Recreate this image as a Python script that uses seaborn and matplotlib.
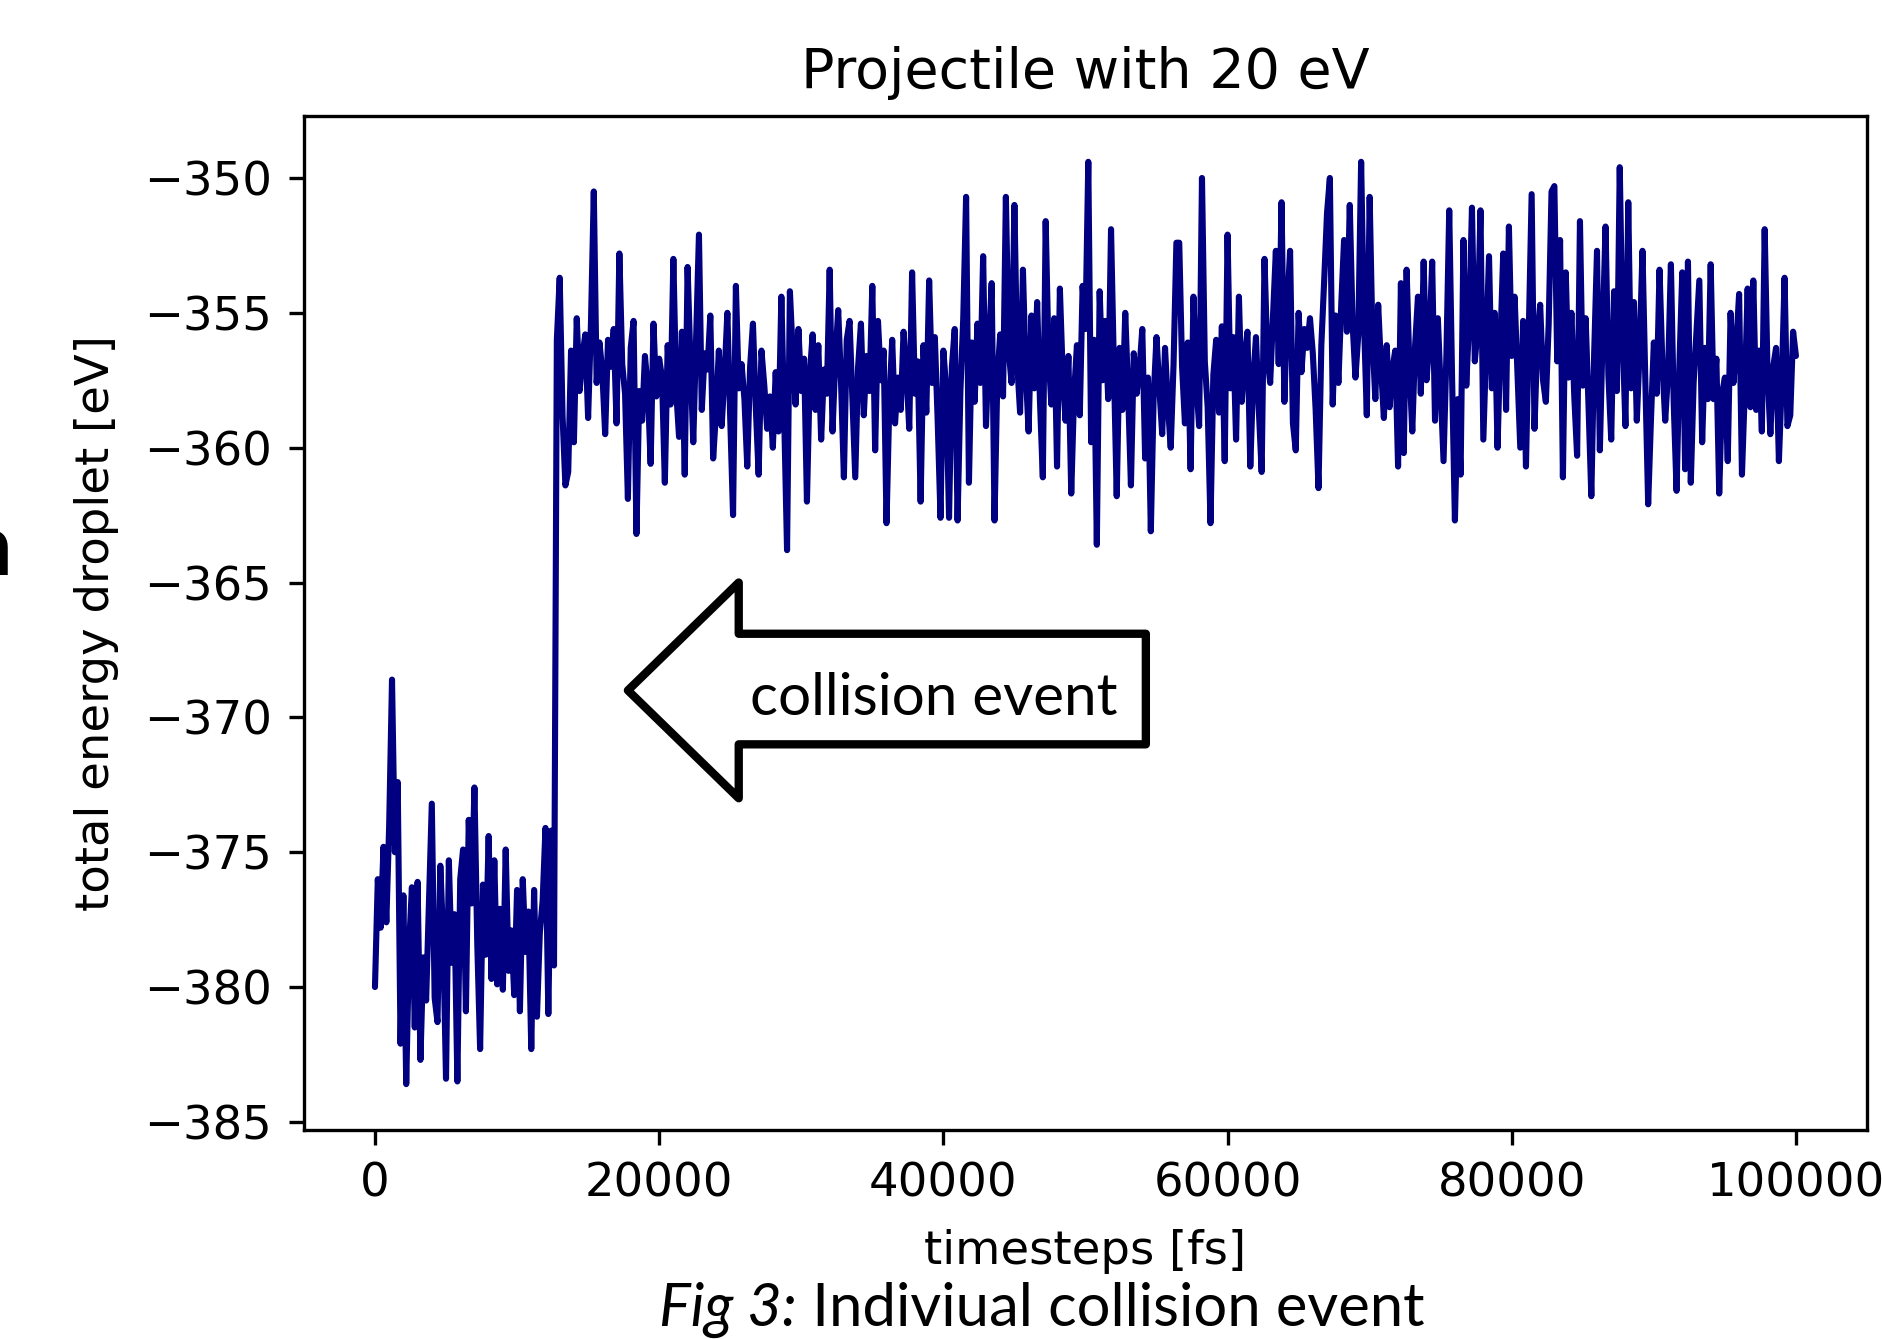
import numpy as np
import pandas as pd
import matplotlib
matplotlib.use("Agg")
import matplotlib.pyplot as plt
import seaborn as sns
from matplotlib.patches import Polygon

# ------------------------------------------------------------
# Data : total energy of the droplet, one value every 200 fs
# ------------------------------------------------------------
dt = 200  # fs between two stored frames

# before the hit (t = 0 ... 12600 fs)
pre_collision = [
    -380.0, -376.0, -377.8, -374.8, -377.6, -374.0, -368.6, -375.0, -372.4, -382.1,
    -376.6, -383.6, -378.5, -376.3, -381.5, -376.1, -382.7, -378.9, -380.5, -376.8,
    -373.2, -380.4, -381.3, -375.5, -378.2, -383.4, -375.3, -379.1, -377.3, -383.5,
    -376.0, -374.9, -380.9, -373.8, -376.9, -372.6, -378.4, -382.3, -376.2, -378.8,
    -374.4, -379.7, -375.3, -379.9, -377.1, -380.1, -374.9, -379.4, -377.9, -380.3,
    -376.4, -380.9, -376.0, -378.7, -377.2, -382.3, -376.4, -381.1, -378.0, -376.8,
    -374.1, -381.0, -374.2, -379.2,
]

# after the hit (t = 12800 ... 100000 fs)
post_collision = [
    -356.0, -353.7, -358.8, -361.4, -360.9, -356.4, -359.8, -355.2, -357.9, -356.6,
    -355.8, -358.9, -355.4, -350.5, -357.6, -356.1, -357.2, -359.5, -356.0, -357.0,
    -355.6, -359.1, -352.8, -356.9, -358.0, -361.9, -356.3, -355.3, -363.2, -357.9,
    -359.0, -356.6, -357.8, -360.6, -355.4, -358.1, -356.7, -357.4, -361.3, -356.2,
    -358.4, -353.0, -357.9, -359.6, -355.7, -361.0, -353.3, -356.8, -359.8, -355.9,
    -352.1, -358.6, -356.5, -357.1, -355.1, -360.4, -358.7, -356.4, -359.2, -357.3,
    -355.0, -358.9, -362.5, -354.0, -357.8, -356.9, -358.2, -360.7, -357.0, -355.4,
    -358.5, -361.0, -356.4, -357.7, -359.3, -358.1, -360.0, -357.2, -359.4, -354.4,
    -358.9, -363.8, -354.2, -356.5, -358.4, -355.6, -357.9, -356.7, -362.0, -357.3,
    -355.8, -358.6, -356.2, -359.7, -357.1, -358.0, -353.4, -359.4, -356.7, -354.9,
    -357.6, -361.1, -356.0, -355.3, -358.2, -361.1, -357.0, -355.4, -358.8, -356.6,
    -357.9, -354.0, -360.1, -355.3, -357.5, -356.4, -362.8, -358.3, -356.0, -359.1,
    -357.4, -358.6, -355.7, -357.2, -359.3, -353.5, -358.0, -356.8, -362.0, -356.2,
    -358.7, -353.8, -357.6, -355.9, -359.0, -362.6, -356.4, -357.8, -362.6, -357.0,
    -355.6, -362.7, -357.9, -355.2, -350.7, -361.3, -356.1, -358.3, -355.4, -357.6,
    -352.9, -359.2, -356.3, -353.9, -362.7, -357.4, -355.8, -358.1, -350.7, -356.4,
    -357.6, -351.0, -356.9, -358.7, -353.4, -357.2, -359.4, -355.1, -357.8, -354.6,
    -358.3, -361.1, -351.6, -356.5, -358.4, -355.2, -360.7, -354.1, -357.3, -359.0,
    -356.6, -361.7, -358.0, -356.2, -358.8, -354.0, -355.6, -349.4, -359.8, -356.0,
    -363.6, -354.2, -357.5, -355.3, -358.2, -351.9, -357.0, -361.8, -356.3, -358.6,
    -355.0, -357.9, -361.4, -356.5, -358.0, -357.1, -355.6, -360.4, -357.4, -363.1,
    -358.1, -355.9, -357.8, -359.5, -356.3, -358.4, -360.0, -356.9, -352.4, -352.4,
    -357.0, -359.1, -356.1, -360.8, -354.4, -357.6, -359.2, -350.0, -356.8, -358.5,
    -362.8, -357.3, -356.0, -358.7, -355.5, -360.5, -352.1, -357.8, -355.9, -359.7,
    -354.4, -358.3, -356.7, -355.7, -360.7, -357.5, -355.9, -358.6, -360.9, -353.0,
    -356.6, -357.6, -355.1, -352.7, -356.9, -350.9, -358.3, -354.8, -352.7, -359.1,
    -360.1, -355.0, -357.2, -355.6, -356.3, -355.2, -356.5, -358.6, -361.5, -356.2,
    -353.8, -351.3, -350.0, -358.4, -355.1, -357.6, -354.7, -352.3, -355.7, -351.0,
    -355.4, -357.4, -355.8, -349.4, -355.3, -358.8, -350.7, -356.0, -358.2, -354.7,
    -357.0, -358.9, -356.2, -358.5, -357.1, -356.4, -360.7, -353.9, -360.2, -353.4,
    -357.0, -359.4, -356.2, -354.4, -358.0, -353.1, -357.5, -356.1, -353.1, -359.0,
    -355.2, -357.8, -360.5, -356.6, -351.2, -357.4, -362.7, -358.2, -361.0, -352.3,
    -357.7, -355.3, -351.1, -356.8, -355.6, -351.2, -359.7, -356.3, -352.9, -357.8,
    -355.0, -360.0, -356.1, -352.8, -358.6, -351.8, -356.6, -354.4, -357.2, -360.0,
    -355.3, -360.7, -355.6, -350.6, -359.3, -356.0, -354.7, -357.5, -358.3, -355.4,
    -350.5, -350.3, -356.8, -352.3, -361.1, -353.5, -357.4, -355.0, -358.1, -360.3,
    -351.6, -357.7, -355.2, -358.4, -361.8, -356.5, -352.7, -360.1, -355.7, -351.8,
    -357.3, -359.7, -354.2, -357.9, -349.6, -355.8, -359.2, -350.9, -357.8, -354.6,
    -359.0, -356.4, -352.7, -357.5, -362.1, -358.9, -356.1, -358.0, -353.4, -356.9,
    -359.0, -357.2, -353.2, -358.4, -361.6, -356.9, -353.5, -360.8, -353.1, -361.3,
    -357.6, -355.7, -353.8, -359.8, -356.3, -358.2, -353.2, -358.2, -356.7, -361.7,
    -358.0, -357.4, -360.5, -355.0, -357.6, -356.2, -354.3, -361.0, -357.9, -354.1,
    -358.5, -353.8, -358.6, -356.4, -359.4, -351.9, -357.2, -359.5, -357.0, -356.3,
    -360.5, -357.6, -353.7, -359.2, -358.8, -355.7, -356.6,
]

title_txt = "Projectile with 20 eV"
xlabel_txt = "timesteps [fs]"
ylabel_txt = "total energy droplet [eV]"
arrow_txt = "collision event"
caption_it = "Fig 3:"
caption_rest = " Indiviual collision event"

energy = np.array(pre_collision + post_collision)
assert len(energy) == 501, len(energy)
time = np.arange(len(energy)) * dt
df = pd.DataFrame({"time": time, "energy": energy})

# ------------------------------------------------------------
# Style
# ------------------------------------------------------------
sns.set_style("ticks", {"axes.edgecolor": "black", "xtick.color": "black",
                        "ytick.color": "black", "text.color": "black",
                        "axes.labelcolor": "black"})
plt.rcParams["font.family"] = ["DejaVu Sans"]

fig = plt.figure(figsize=(18.83, 13.39), dpi=100)
ax = fig.add_axes([0.1614, 0.1561, 0.8301, 0.7573])

sns.lineplot(data=df, x="time", y="energy", color="navy", linewidth=4.4,
             estimator=None, ax=ax)

ax.set_xlim(-5000, 105000)
ax.set_ylim(-385.3, -347.7)
ax.set_xticks([0, 20000, 40000, 60000, 80000, 100000])
ax.set_yticks([-350, -355, -360, -365, -370, -375, -380, -385])

for side in ax.spines.values():
    side.set_linewidth(2.4)
ax.tick_params(axis="both", labelsize=33.5, length=11, width=2.4, pad=12)

ax.set_title(title_txt, fontsize=40, pad=20)
ax.set_xlabel(xlabel_txt, fontsize=33.5, labelpad=16)
ax.set_ylabel(ylabel_txt, fontsize=33.5, labelpad=18)

# ------------------------------------------------------------
# Block arrow "collision event" (drawn in data coordinates)
# ------------------------------------------------------------
tip_x, tip_y = 17800, -369.0
head_x, end_x = 25600, 54250
head_top, head_bot = -365.0, -373.0
shaft_top, shaft_bot = -366.9, -371.0
arrow = Polygon([(tip_x, tip_y), (head_x, head_top), (head_x, shaft_top),
                 (end_x, shaft_top), (end_x, shaft_bot), (head_x, shaft_bot),
                 (head_x, head_bot)], closed=True, facecolor="white",
                edgecolor="black", linewidth=6, joinstyle="round", zorder=3)
ax.add_patch(arrow)
ax.text(39300, -369.9, arrow_txt, ha="center", va="baseline", fontsize=42,
        family=["Lato", "DejaVu Sans"], zorder=4)

# ------------------------------------------------------------
# Slide leftovers : caption and cut glyph on the left
# ------------------------------------------------------------
fig.text(12 / 1883, 1 - 575 / 1339, "n", ha="right", va="baseline",
         fontsize=62, fontweight="bold", family=["Lato", "DejaVu Sans"])

cap_y = 1 - 1326 / 1339
t1 = fig.text(0.3, cap_y, caption_it, ha="left", va="baseline", fontsize=43,
              style="italic", family=["Lato", "DejaVu Sans"])
t2 = fig.text(0.4, cap_y, caption_rest, ha="left", va="baseline", fontsize=43,
              family=["Lato", "DejaVu Sans"])
fig.canvas.draw()
r = fig.canvas.get_renderer()
w1 = t1.get_window_extent(r).width / fig.bbox.width
w2 = t2.get_window_extent(r).width / fig.bbox.width
start = 1042 / 1883 - (w1 + w2) / 2
t1.set_x(start)
t2.set_x(start + w1)

fig.savefig("out.png", dpi=100)
